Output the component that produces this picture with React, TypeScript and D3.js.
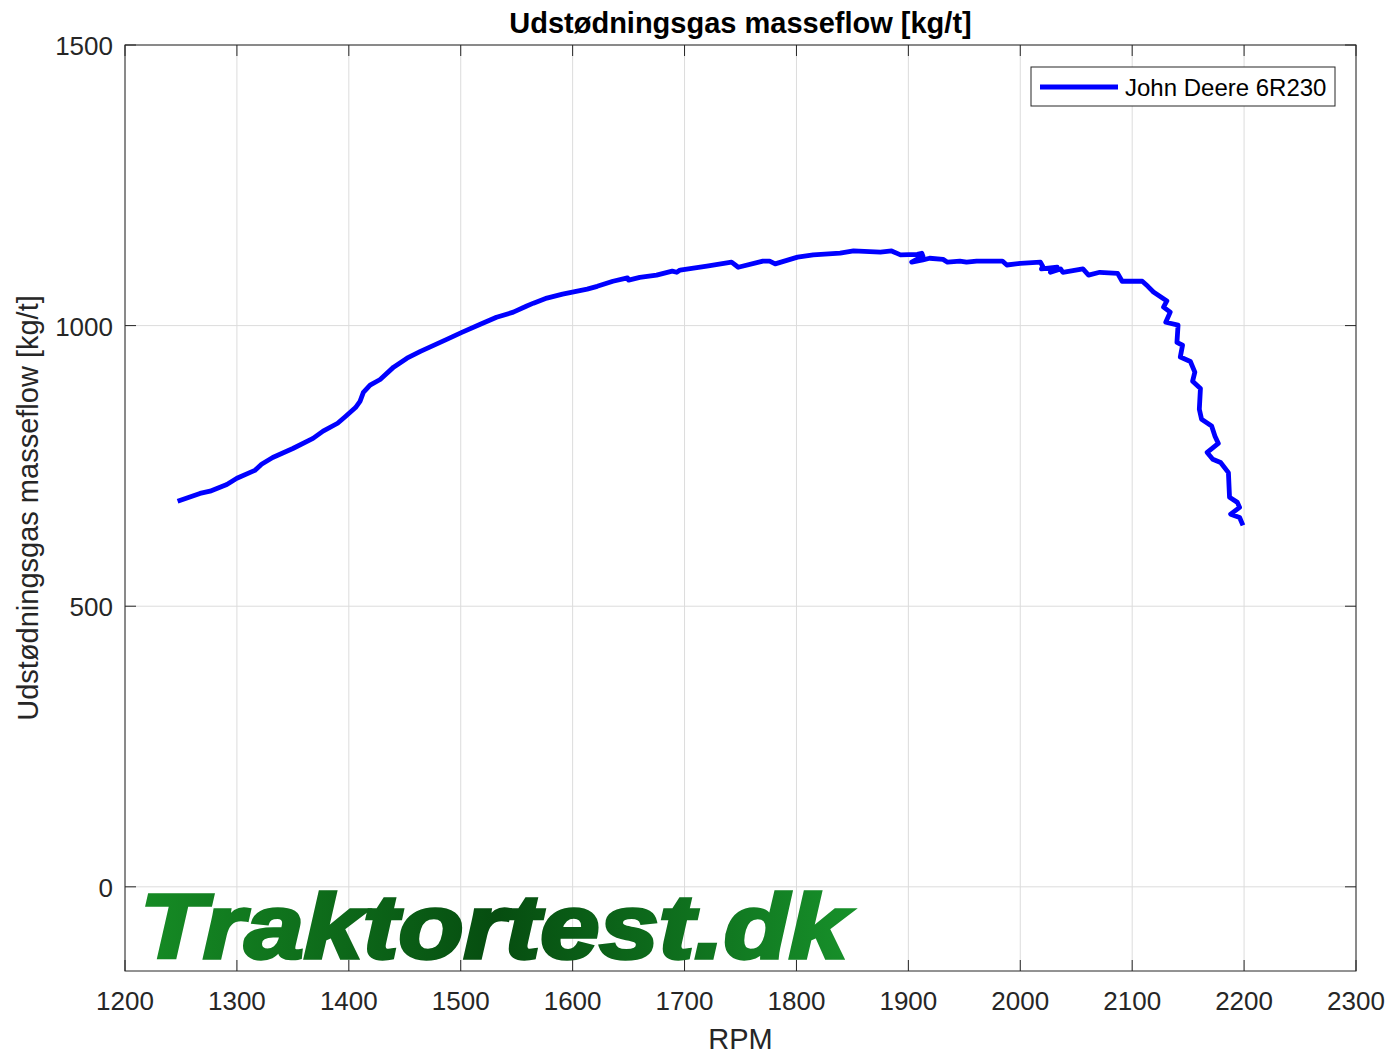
import { useEffect, useRef } from 'react';
import * as d3 from 'd3';

const rpm = [
  1247, 1267, 1276, 1291, 1300, 1316, 1322, 1332, 1350, 1368, 1377, 1390, 1397, 1406, 1410, 1413,
  1419, 1428, 1440, 1452, 1464, 1488, 1501, 1517, 1532, 1547, 1559, 1565, 1577, 1591, 1613, 1622,
  1636, 1649, 1650, 1660, 1675, 1689, 1693, 1696, 1720, 1742, 1748, 1770, 1776, 1781, 1801, 1815,
  1839, 1851, 1875, 1885, 1893, 1908, 1912,
  1913, 1903, 1913, 1919, 1931, 1935, 1946, 1952, 1961, 1984, 1988, 2000, 2018, 2020, 2019, 2033,
  2027, 2036, 2038, 2056, 2061, 2071, 2087, 2091, 2109, 2114, 2119, 2125, 2131, 2128, 2134, 2130,
  2141, 2140, 2145, 2143, 2152, 2156, 2154, 2161, 2160, 2162, 2171, 2174, 2177, 2167, 2172, 2179,
  2186, 2187, 2194, 2196, 2188, 2196, 2199,
];
const flow = [
  687, 701, 705, 717, 728, 742, 753, 765, 781, 799, 812, 826, 838, 854, 865, 881,
  894, 904, 926, 942, 954, 976, 988, 1002, 1015, 1024, 1035, 1040, 1049, 1056, 1065, 1070,
  1079, 1085, 1081, 1086, 1090, 1097, 1095, 1099, 1106, 1113, 1104, 1115, 1115, 1110, 1122, 1126,
  1129, 1133, 1131, 1133, 1126, 1127, 1129,
  1124, 1113, 1117, 1120, 1118, 1113, 1115, 1113, 1115, 1115, 1108, 1111, 1113, 1106, 1101, 1104,
  1095, 1101, 1095, 1101, 1090, 1095, 1093, 1079, 1079, 1070, 1060, 1052, 1044, 1033, 1024, 1006,
  1001, 970, 965, 944, 936, 917, 901, 888, 851, 833, 821, 803, 790, 774, 762, 756,
  738, 694, 685, 676, 664, 658, 644,
];
const xTicks = [1200, 1300, 1400, 1500, 1600, 1700, 1800, 1900, 2000, 2100, 2200, 2300];
const yTicks = [0, 500, 1000, 1500];
const seriesName = 'John Deere 6R230';
const title = 'Udstødningsgas masseflow [kg/t]';
const xLabel = 'RPM';
const yLabel = 'Udstødningsgas masseflow [kg/t]';

export default function App() {
  const svgRef = useRef<SVGSVGElement | null>(null);

  useEffect(() => {
    if (!svgRef.current) return;
    const W = 1391;
    const H = 1056;
    const m = { left: 125, right: 35, top: 45, bottom: 85 };
    const font = 'Liberation Sans, Arial, Helvetica, sans-serif';

    const svg = d3.select(svgRef.current);
    svg.selectAll('*').remove();
    svg.attr('width', W).attr('height', H);

    const x = d3.scaleLinear().domain([1200, 2300]).range([m.left, W - m.right]);
    const y = d3.scaleLinear().domain([-150, 1500]).range([H - m.bottom, m.top]);
    const [x0, x1] = x.range();
    const [y0, y1] = y.range();

    const defs = svg.append('defs');
    const grad = defs
      .append('linearGradient')
      .attr('id', 'wm')
      .attr('x1', '0%')
      .attr('x2', '100%')
      .attr('y1', '0%')
      .attr('y2', '0%');
    grad.append('stop').attr('offset', '0%').attr('stop-color', '#168c25');
    grad.append('stop').attr('offset', '50%').attr('stop-color', '#064d10');
    grad.append('stop').attr('offset', '100%').attr('stop-color', '#17902a');

    svg.append('rect').attr('x', x0).attr('y', y1).attr('width', x1 - x0).attr('height', y0 - y1).attr('fill', '#fff');

    // grid
    const grid = svg.append('g').attr('stroke', '#dcdcdc').attr('stroke-width', 1);
    xTicks.forEach((t) => {
      grid.append('line').attr('x1', x(t)).attr('x2', x(t)).attr('y1', y0).attr('y2', y1);
    });
    yTicks.forEach((t) => {
      grid.append('line').attr('x1', x0).attr('x2', x1).attr('y1', y(t)).attr('y2', y(t));
    });

    // watermark
    svg
      .append('text')
      .attr('x', 140)
      .attr('y', 958)
      .attr('font-family', font)
      .attr('font-weight', 'bold')
      .attr('font-style', 'italic')
      .attr('font-size', 91)
      .attr('textLength', 708)
      .attr('lengthAdjust', 'spacingAndGlyphs')
      .attr('fill', 'url(#wm)')
      .attr('stroke', 'url(#wm)')
      .attr('stroke-width', 3.5)
      .text('Traktortest.dk');

    // line
    const pts = rpm.map((r, i) => [r, flow[i]] as [number, number]);
    svg
      .append('path')
      .datum(pts)
      .attr('fill', 'none')
      .attr('stroke', '#0000ff')
      .attr('stroke-width', 4.8)
      .attr('stroke-linejoin', 'round')
      .attr('d', d3.line<[number, number]>().x((d) => x(d[0])).y((d) => y(d[1])));

    // box and ticks
    const axis = svg.append('g').attr('stroke', '#262626').attr('stroke-width', 1).attr('fill', 'none');
    axis.append('rect').attr('x', x0).attr('y', y1).attr('width', x1 - x0).attr('height', y0 - y1);
    const tl = 11;
    xTicks.forEach((t) => {
      axis.append('line').attr('x1', x(t)).attr('x2', x(t)).attr('y1', y0).attr('y2', y0 - tl);
      axis.append('line').attr('x1', x(t)).attr('x2', x(t)).attr('y1', y1).attr('y2', y1 + tl);
    });
    yTicks.forEach((t) => {
      axis.append('line').attr('x1', x0).attr('x2', x0 + tl).attr('y1', y(t)).attr('y2', y(t));
      axis.append('line').attr('x1', x1).attr('x2', x1 - tl).attr('y1', y(t)).attr('y2', y(t));
    });

    const labels = svg.append('g').attr('font-family', font).attr('fill', '#262626').attr('font-size', 26);
    xTicks.forEach((t) => {
      labels.append('text').attr('x', x(t)).attr('y', y0 + 39).attr('text-anchor', 'middle').text(t);
    });
    yTicks.forEach((t) => {
      labels.append('text').attr('x', x0 - 12).attr('y', y(t) + 10).attr('text-anchor', 'end').text(t);
    });

    labels
      .append('text')
      .attr('x', (x0 + x1) / 2)
      .attr('y', 1049)
      .attr('text-anchor', 'middle')
      .attr('font-size', 29)
      .text(xLabel);
    labels
      .append('text')
      .attr('transform', `translate(38,${(y0 + y1) / 2}) rotate(-90)`)
      .attr('text-anchor', 'middle')
      .attr('font-size', 29)
      .text(yLabel);

    svg
      .append('text')
      .attr('x', (x0 + x1) / 2)
      .attr('y', 33)
      .attr('text-anchor', 'middle')
      .attr('font-family', font)
      .attr('font-weight', 'bold')
      .attr('font-size', 29)
      .attr('fill', '#000')
      .text(title);

    // legend
    const lg = svg.append('g');
    lg.append('rect')
      .attr('x', 1031)
      .attr('y', 67)
      .attr('width', 304)
      .attr('height', 39)
      .attr('fill', '#fff')
      .attr('stroke', '#262626')
      .attr('stroke-width', 1);
    lg.append('line').attr('x1', 1040).attr('x2', 1118).attr('y1', 87).attr('y2', 87).attr('stroke', '#0000ff').attr('stroke-width', 4.8);
    lg.append('text')
      .attr('x', 1125)
      .attr('y', 96)
      .attr('font-family', font)
      .attr('font-size', 24)
      .attr('fill', '#000')
      .text(seriesName);
  }, []);

  return <svg ref={svgRef} style={{ display: 'block', position: 'absolute', left: 0, top: 0 }}></svg>;
}
